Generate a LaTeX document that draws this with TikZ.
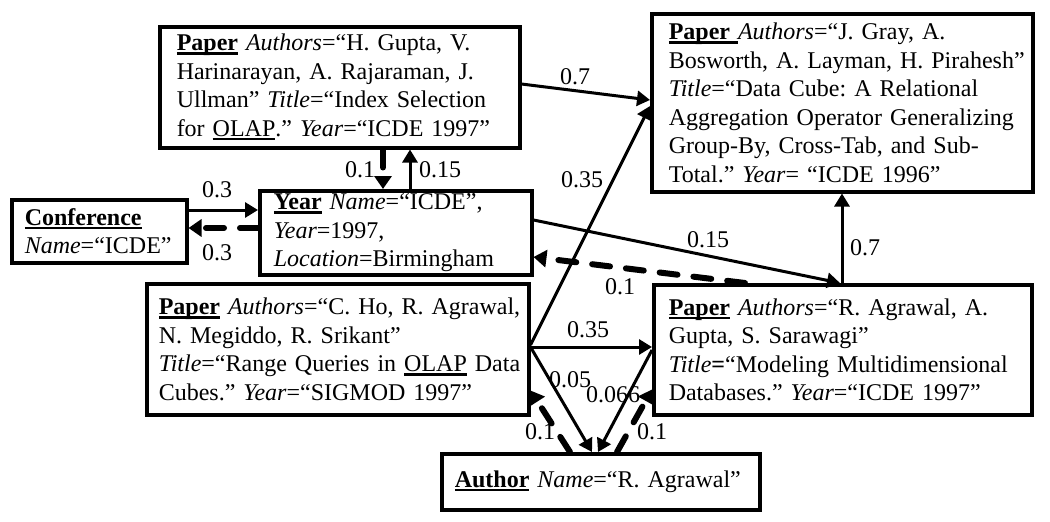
\documentclass[tikz,border=0pt]{standalone}
\usepackage{fontspec}
\setmainfont{Liberation Serif}
\usetikzlibrary{arrows.meta}
\newcommand\ulb[1]{\setbox0\hbox{#1}\rlap{\rule[-4pt]{\wd0}{2.6pt}}\box0\relax}
\frenchspacing
\begin{document}
\begin{tikzpicture}[x=1pt,y=-1pt,
  box/.style={draw, line width=3.5pt, rectangle, anchor=north west, align=left,
    inner ysep=0pt, font=\fontsize{24}{28.5}\selectfont\frenchspacing},
  solidedge/.style={line width=3pt, -{Triangle[length=13pt,width=15pt]}},
  dashedge/.style={line width=6pt, dash pattern=on 18pt off 16pt, line cap=round,
    -{Triangle[length=13pt,width=17pt]}},
  lbl/.style={font=\fontsize{24}{28}\selectfont, inner sep=0pt}]
\useasboundingbox (0,0) rectangle (1050,522);

\node[box, minimum width=360pt, minimum height=121pt, text width=326pt, inner xsep=17pt] (gupta) at (158,25)
 {\mbox{\ulb{\textbf{Paper}} \textit{Authors}=“H. Gupta, V.}\\
  \mbox{Harinarayan, A. Rajaraman, J.}\\
  \mbox{Ullman” \textit{Title}=“Index Selection}\\
  \mbox{for \ulb{OLAP}.” \textit{Year}=“ICDE 1997”}};

\node[box, minimum width=381pt, minimum height=178pt, text width=347pt, inner xsep=17pt] (gray) at (650,12)
 {\mbox{\ulb{\textbf{Paper} }\textit{Authors}=“J. Gray, A.}\\
  \mbox{Bosworth, A. Layman, H. Pirahesh”}\\
  \mbox{\textit{Title}=“Data Cube: A Relational}\\
  \mbox{Aggregation Operator Generalizing}\\
  \mbox{Group-By, Cross-Tab, and Sub-}\\
  \mbox{Total.” \textit{Year}= “ICDE 1996”}};

\node[box, minimum width=175pt, minimum height=63pt, text width=149pt, inner xsep=13pt] (conf) at (10,198)
 {\mbox{\ulb{\textbf{Conference}}}\\
  \mbox{\textit{Name}=“ICDE”}};

\node[box, minimum width=272pt, minimum height=84pt, text width=244pt, inner xsep=14pt] (year) at (258,189)
 {\mbox{\ulb{\textbf{Year}} \textit{Name}=“ICDE”,}\\
  \mbox{\textit{Year}=1997,}\\
  \mbox{\textit{Location}=Birmingham}};

\node[box, minimum width=382pt, minimum height=131pt, text width=358pt, inner xsep=12pt] (ho) at (145,282)
 {\mbox{\ulb{\textbf{Paper}} \textit{Authors}=“C. Ho, R. Agrawal,}\\
  \mbox{N. Megiddo, R. Srikant”}\\
  \mbox{\textit{Title}=“Range Queries in \ulb{OLAP} Data}\\
  \mbox{Cubes.” \textit{Year}=“SIGMOD 1997”}};

\node[box, minimum width=378pt, minimum height=130pt, text width=348pt, inner xsep=15pt] (agr) at (652,283)
 {\mbox{\ulb{\textbf{Paper}} \textit{Authors}=“R. Agrawal, A.}\\
  \mbox{Gupta, S. Sarawagi”}\\
  \mbox{\textit{Title}\textbf{=}“Modeling Multidimensional}\\
  \mbox{Databases.” \textit{Year}=“ICDE 1997”}};

\node[box, minimum width=318pt, minimum height=56pt, text width=292pt, inner xsep=13pt] (author) at (440,452)
 {\mbox{\ulb{\textbf{Author}} \textit{Name}=“R. Agrawal”}};

% connectors
\draw[solidedge] ([yshift=-59pt]gupta.north east) -- ([yshift=-88pt]gray.north west);
\draw[solidedge] ([yshift=-63pt]ho.north east) -- ([yshift=-94pt]gray.north west);
\draw[solidedge] ([yshift=-65pt]ho.north east) -- ([yshift=-64pt]agr.north west);
\draw[solidedge] ([yshift=-65pt]ho.north east) -- ([xshift=152pt]author.north west);
\draw[solidedge] ([yshift=-67pt]agr.north west) -- ([xshift=158pt]author.north west);
\draw[dashedge] ([xshift=130pt]author.north west) -- ([yshift=26pt]ho.south east);
\draw[dashedge] ([xshift=177pt]author.north west) -- ([yshift=27pt]agr.south west);
\draw[dashedge] ([xshift=225pt]gupta.south west) -- ([xshift=125pt]year.north west);
\draw[solidedge] ([xshift=152pt]year.north west) -- ([xshift=252pt]gupta.south west);
\draw[solidedge] ([yshift=-12pt]conf.north east) -- ([yshift=-21pt]year.north west);
\draw[dashedge] ([yshift=-39pt]year.north west) -- ([yshift=-30pt]conf.north east);
\draw[solidedge] ([yshift=-31pt]year.north east) -- ([xshift=188pt]agr.north west);
\draw[dashedge] ([xshift=93pt]agr.north west) -- ([yshift=-68pt]year.north east);
\draw[solidedge] ([xshift=190pt]agr.north west) -- ([xshift=192pt]gray.south west);

% labels
\node[lbl] (l1) at (360,170) {0.1};
\node[lbl] (l2) at (440,170) {0.15};
\node[lbl] (l3) at (217,190) {0.3};
\node[lbl] (l4) at (217,253) {0.3};
\node[lbl] (l5) at (575,77) {0.7};
\node[lbl] (l6) at (582,180) {0.35};
\node[lbl] (l7) at (588,330) {0.35};
\node[lbl] (l8) at (708,240) {0.15};
\node[lbl] (l9) at (620,287) {0.1};
\node[lbl] (l10) at (865,248) {0.7};
\node[lbl] (l11) at (570,380) {0.05};
\node[lbl] (l12) at (613,395) {0.066};
\node[lbl] (l13) at (540,432) {0.1};
\node[lbl] (l14) at (652,432) {0.1};
\end{tikzpicture}
\end{document}
